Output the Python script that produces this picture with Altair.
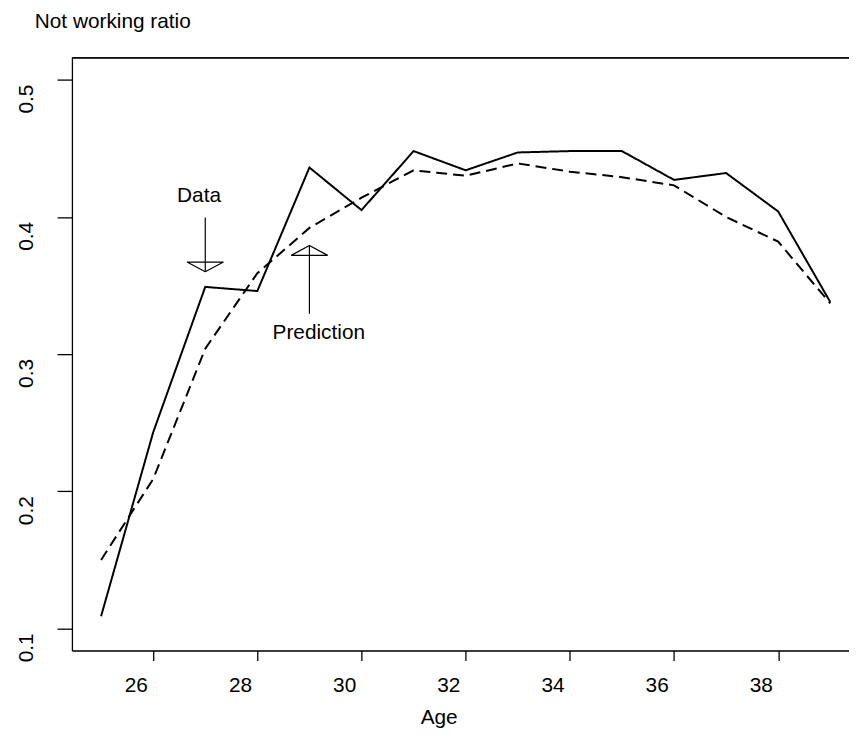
import altair as alt
import pandas as pd

# ---- data ----
ages = [25, 26, 27, 28, 29, 30, 31, 32, 33, 34, 35, 36, 37, 38, 39]
data_ratio = [0.109, 0.243, 0.349, 0.346, 0.436, 0.405, 0.448, 0.434, 0.447,
              0.448, 0.448, 0.427, 0.432, 0.404, 0.338]
pred_ratio = [0.150, 0.209, 0.304, 0.359, 0.392, 0.414, 0.434, 0.430, 0.439,
              0.433, 0.429, 0.423, 0.400, 0.382, 0.337]

# annotation arrows: (name, x, y_start, y_tip, y_head_base, half_width)
arrow_names = ["Data", "Prediction"]
arrow_x = [27.0, 29.0]
arrow_from = [0.3996, 0.3294]
arrow_tip = [0.3601, 0.3792]
arrow_base = [0.3671, 0.3720]
arrow_half = [0.35, 0.35]

# annotation labels
label_text = ["Data", "Prediction"]
label_x = [26.88, 29.18]
label_y = [0.4112, 0.3113]

x_ticks = [26, 28, 30, 32, 34, 36, 38]
y_ticks = [0.1, 0.2, 0.3, 0.4, 0.5]

FONT = "Liberation Sans"
FS = 21
W, H = 784, 598

series = pd.DataFrame({
    "age": ages * 2,
    "ratio": data_ratio + pred_ratio,
    "series": ["Data"] * len(ages) + ["Prediction"] * len(ages),
})

shafts = pd.DataFrame({"name": arrow_names, "x": arrow_x,
                       "y1": arrow_from, "y2": arrow_tip})

head_rows = []
for n, x, tip, base, hw in zip(arrow_names, arrow_x, arrow_tip, arrow_base, arrow_half):
    pts = [(x, tip), (x - hw, base), (x + hw, base), (x, tip)]
    for i, (px, py) in enumerate(pts):
        head_rows.append({"name": n, "order": i, "x": px, "y": py})
heads = pd.DataFrame(head_rows)

labels = pd.DataFrame({"text": label_text, "x": label_x, "y": label_y})

xscale = alt.Scale(domain=[24.44, 39.36], nice=False, zero=False)
yscale = alt.Scale(domain=[0.084, 0.516], nice=False, zero=False)

xaxis = alt.Axis(values=x_ticks, title="Age", grid=False,
                 domainColor="black", domainWidth=1.3,
                 tickColor="black", tickWidth=1.3, tickSize=10,
                 labelFont=FONT, labelFontSize=FS, labelColor="black",
                 labelBaseline="alphabetic", labelPadding=31, labelOffset=-17.5,
                 labelFlush=False,
                 titleFont=FONT, titleFontSize=FS, titleFontWeight="normal",
                 titleColor="black", titleX=370, titleY=74,
                 titleAlign="center", titleBaseline="alphabetic")

yaxis = alt.Axis(values=y_ticks, format=".1f", title="Not working ratio",
                 grid=False, domainColor="black", domainWidth=1.3,
                 tickColor="black", tickWidth=1.3, tickSize=15,
                 labelFont=FONT, labelFontSize=FS, labelColor="black",
                 labelAngle=270, labelAlign="center", labelBaseline="alphabetic",
                 labelPadding=25, labelOffset=19, labelFlush=False,
                 titleFont=FONT, titleFontSize=FS, titleFontWeight="normal",
                 titleColor="black", titleAngle=0, titleAlign="left",
                 titleBaseline="alphabetic", titleX=-38, titleY=-31)

lines = alt.Chart(series).mark_line(color="black", strokeWidth=2).encode(
    x=alt.X("age:Q", scale=xscale, axis=xaxis),
    y=alt.Y("ratio:Q", scale=yscale, axis=yaxis),
    strokeDash=alt.StrokeDash("series:N", legend=None,
                              scale=alt.Scale(domain=["Data", "Prediction"],
                                              range=[[1, 0], [11, 6]])),
    detail="series:N",
)

shaft = alt.Chart(shafts).mark_rule(color="black", strokeWidth=1.2).encode(
    x=alt.X("x:Q", scale=xscale),
    y=alt.Y("y1:Q", scale=yscale),
    y2="y2:Q",
)

head = alt.Chart(heads).mark_line(color="black", strokeWidth=1.2).encode(
    x=alt.X("x:Q", scale=xscale),
    y=alt.Y("y:Q", scale=yscale),
    detail="name:N",
    order="order:Q",
)

text = alt.Chart(labels).mark_text(font=FONT, fontSize=FS, color="black",
                                   align="center", baseline="alphabetic").encode(
    x=alt.X("x:Q", scale=xscale),
    y=alt.Y("y:Q", scale=yscale),
    text="text:N",
)

top_border = alt.Chart(labels).mark_rule(color="black", strokeWidth=1.3).encode(
    x=alt.value(0), x2=alt.value(W), y=alt.value(0)
)

chart = alt.layer(lines, shaft, head, text, top_border).properties(
    width=W, height=H,
    autosize=alt.AutoSizeParams(type="none"),
    padding={"left": 64.5, "top": 47, "right": 0, "bottom": 80},
).configure_view(stroke=None).configure(background="white")

chart.save("out.html", embed_options={"renderer": "svg", "actions": False})
